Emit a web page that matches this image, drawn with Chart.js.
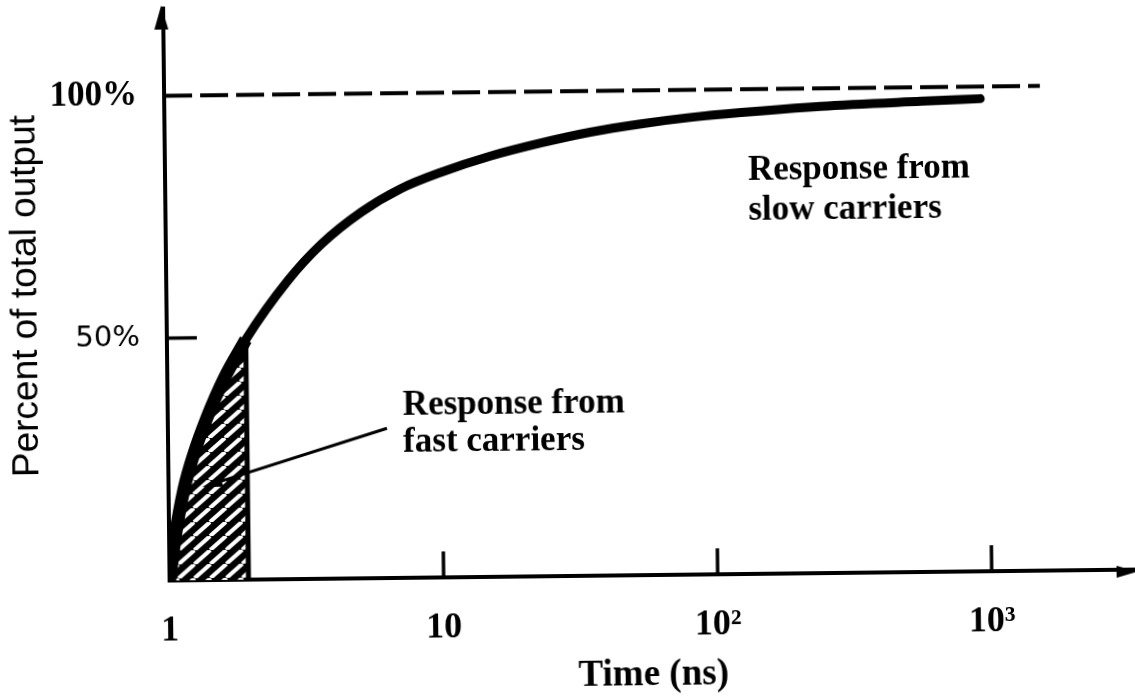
<!DOCTYPE html>
<html>
<head>
<meta charset="utf-8">
<script src="https://cdn.jsdelivr.net/npm/chart.js@4.4.1/dist/chart.umd.min.js"></script>
<style>
  html, body { margin: 0; padding: 0; background: #fff; overflow: hidden; }
  /* the scanned figure sits slightly rotated */
  #wrap { width: 1135px; height: 696px; transform: rotate(-0.65deg); transform-origin: 50% 50%; }
</style>
</head>
<body>
<div id="wrap"><canvas id="plot" width="1135" height="696"></canvas></div>
<script>
// Response curve: time (ns) and percent of total output
const curveTimes = [1, 1.06, 1.14, 1.24, 1.39, 1.61, 1.94, 2.78, 3.69, 5.17, 7.25, 10.2, 15.4, 23.6, 35.7, 54.8, 82.8, 127, 249, 578, 950];
const curvePercent = [0, 10, 19, 26, 33.5, 41.5, 49.5, 61.6, 69, 75.5, 80.3, 83.6, 86.8, 89.4, 91.5, 93.1, 94.3, 95.2, 96.3, 97.1, 97.5];

// Hatched part (fast carriers) runs up to this curve point, then drops to the axis
const fastEndIndex = 6;
const hatchCornerPercent = 0;

// Dashed 100% guide
const guideTimes = [1, 1570];
const guideLevel = 100;

// Axis ticks
const xTickValues = [1, 10, 100, 1000];
const xTickLabels = ["1", "10", "10\u00B2", "10\u00B3"];
const yTickValues = [50, 100];
const yTickLabels = ["50%", "100%"];

// Annotations
const slowLabel = ["Response from", "slow carriers"];
const fastLabel = ["Response from", "fast carriers"];

// Build point lists for the library
const curveData = curveTimes.map((t, i) => ({ x: t, y: curvePercent[i] }));
const fastEdgeData = curveData.slice(0, fastEndIndex + 1);
const hatchData = fastEdgeData.concat([{ x: curveTimes[fastEndIndex], y: hatchCornerPercent }]);
const guideData = guideTimes.map(t => ({ x: t, y: guideLevel }));

const canvas = document.getElementById("plot");
const ctx = canvas.getContext("2d");

// Black fill with white "/" stripes
function makeHatch() {
    const tile = document.createElement("canvas");
    tile.width = 16;
    tile.height = 14;
    const g = tile.getContext("2d");
    g.fillStyle = "#000";
    g.fillRect(0, 0, 16, 14);
    g.strokeStyle = "#fff";
    g.lineWidth = 4;
    for (const dx of [-16, 0, 16]) {
        g.beginPath();
        g.moveTo(dx, 14);
        g.lineTo(dx + 16, 0);
        g.stroke();
    }
    return ctx.createPattern(tile, "repeat");
}

function line(c, x1, y1, x2, y2) {
    c.beginPath();
    c.moveTo(x1, y1);
    c.lineTo(x2, y2);
    c.stroke();
}

// scales keep no extra room for labels beyond the fixed chart area
function noScalePadding(s) {
    s.paddingTop = 0;
    s.paddingBottom = 0;
    s.paddingLeft = 0;
    s.paddingRight = 0;
}

// Arrowheads, inward ticks, the pointer arrow and the two notes
const extras = {
    id: "extras",
    afterDatasetsDraw(chart) {
        const { ctx: c, chartArea: a, scales: { x, y } } = chart;
        const ax = a.left - 2;
        const ay = a.bottom + 2;
        c.save();
        c.fillStyle = "#000";
        c.strokeStyle = "#000";

        // axis arrowheads
        c.beginPath();
        c.moveTo(ax, a.top - 3);
        c.lineTo(ax - 7, a.top + 21);
        c.lineTo(ax + 7, a.top + 21);
        c.closePath();
        c.fill();
        c.beginPath();
        c.moveTo(a.right + 2, ay);
        c.lineTo(a.right - 19, ay - 6);
        c.lineTo(a.right - 19, ay + 6);
        c.closePath();
        c.fill();

        // inward tick marks
        c.lineWidth = 3.5;
        xTickValues.slice(1).forEach(v => {
            const px = x.getPixelForValue(v);
            line(c, px, ay, px, ay - 28);
        });
        const p50 = y.getPixelForValue(50);
        line(c, ax, p50, ax + 32, p50);

        // pointer into the hatched area
        const sx = x.getPixelForValue(6.3), sy = y.getPixelForValue(30.9);
        const tx = x.getPixelForValue(1.33), ty = y.getPixelForValue(19.2);
        c.lineWidth = 3;
        line(c, sx, sy, tx + 10, ty - 3);
        const ang = Math.atan2(ty - sy, tx - sx);
        c.beginPath();
        c.moveTo(tx, ty);
        c.lineTo(tx - 20 * Math.cos(ang) + 6 * Math.sin(ang), ty - 20 * Math.sin(ang) - 6 * Math.cos(ang));
        c.lineTo(tx - 20 * Math.cos(ang) - 6 * Math.sin(ang), ty - 20 * Math.sin(ang) + 6 * Math.cos(ang));
        c.closePath();
        c.fill();

        // notes
        c.font = 'bold 35px "Liberation Serif"';
        c.textAlign = "left";
        c.textBaseline = "alphabetic";
        const slx = x.getPixelForValue(134), sly = y.getPixelForValue(81.2);
        slowLabel.forEach((s, i) => c.fillText(s, slx, sly + i * 40));
        const flx = x.getPixelForValue(7.21), fly = y.getPixelForValue(33.6);
        fastLabel.forEach((s, i) => c.fillText(s, flx, fly + i * 37));

        c.restore();
    }
};

const serif = { family: "Liberation Serif", size: 36, weight: "bold", lineHeight: 1.2 };

new Chart(ctx, {
    type: "scatter",
    data: {
        datasets: [
            {
                label: "Total response",
                data: curveData,
                showLine: true,
                borderColor: "#000",
                borderWidth: 9,
                borderCapStyle: "round",
                cubicInterpolationMode: "monotone",
                pointRadius: 0,
                fill: false,
                order: 0
            },
            {
                label: "100%",
                data: guideData,
                showLine: true,
                borderColor: "#000",
                borderWidth: 4,
                borderDash: [28, 8],
                pointRadius: 0,
                fill: false,
                order: 1
            },
            {
                // heavier ink along the curve over the fast part
                label: "Fast edge",
                data: fastEdgeData,
                showLine: true,
                borderColor: "#000",
                borderWidth: 13,
                cubicInterpolationMode: "monotone",
                pointRadius: 0,
                fill: false,
                order: 2
            },
            {
                label: "Fast carriers",
                data: hatchData,
                showLine: true,
                borderColor: "#000",
                borderWidth: 5,
                backgroundColor: makeHatch(),
                fill: "origin",
                tension: 0,
                pointRadius: 0,
                order: 3
            }
        ]
    },
    options: {
        responsive: false,
        animation: false,
        devicePixelRatio: 1,
        layout: { padding: { left: 0, right: 2, top: 4, bottom: 0 } },
        plugins: {
            legend: { display: false },
            tooltip: { enabled: false }
        },
        scales: {
            x: {
                type: "logarithmic",
                position: "bottom",
                min: 1,
                max: 3350,
                afterFit: (s) => { s.height = 120; noScalePadding(s); },
                afterBuildTicks: (s) => { s.ticks = xTickValues.map(v => ({ value: v })); },
                grid: { display: false },
                border: { display: true, color: "#000", width: 4 },
                ticks: {
                    autoSkip: false,
                    maxRotation: 0,
                    padding: 21,
                    color: "#000",
                    font: serif,
                    callback: (v, i) => xTickLabels[i]
                },
                title: {
                    display: true,
                    text: "Time (ns)",
                    color: "#000",
                    font: { family: "Liberation Serif", size: 37, weight: "bold", lineHeight: 1 },
                    padding: { top: 0, bottom: 1 }
                }
            },
            y: {
                min: 0,
                max: 118,
                afterFit: (s) => { s.width = 167; noScalePadding(s); },
                afterBuildTicks: (s) => { s.ticks = yTickValues.map(v => ({ value: v })); },
                grid: { display: false },
                border: { display: true, color: "#000", width: 4 },
                ticks: {
                    padding: 19,
                    color: "#000",
                    font: (c) => (c.tick && c.tick.value === 50)
                        ? { family: "DejaVu Sans", size: 29 }
                        : { family: "Liberation Serif", size: 35, weight: "bold" },
                    callback: (v, i) => yTickLabels[i]
                },
                title: {
                    display: true,
                    text: "Percent of total output",
                    color: "#000",
                    font: { family: "Liberation Sans", size: 37, lineHeight: 1.2 },
                    padding: { top: 5, bottom: 0 }
                }
            }
        }
    },
    plugins: [extras]
});
</script>
</body>
</html>
